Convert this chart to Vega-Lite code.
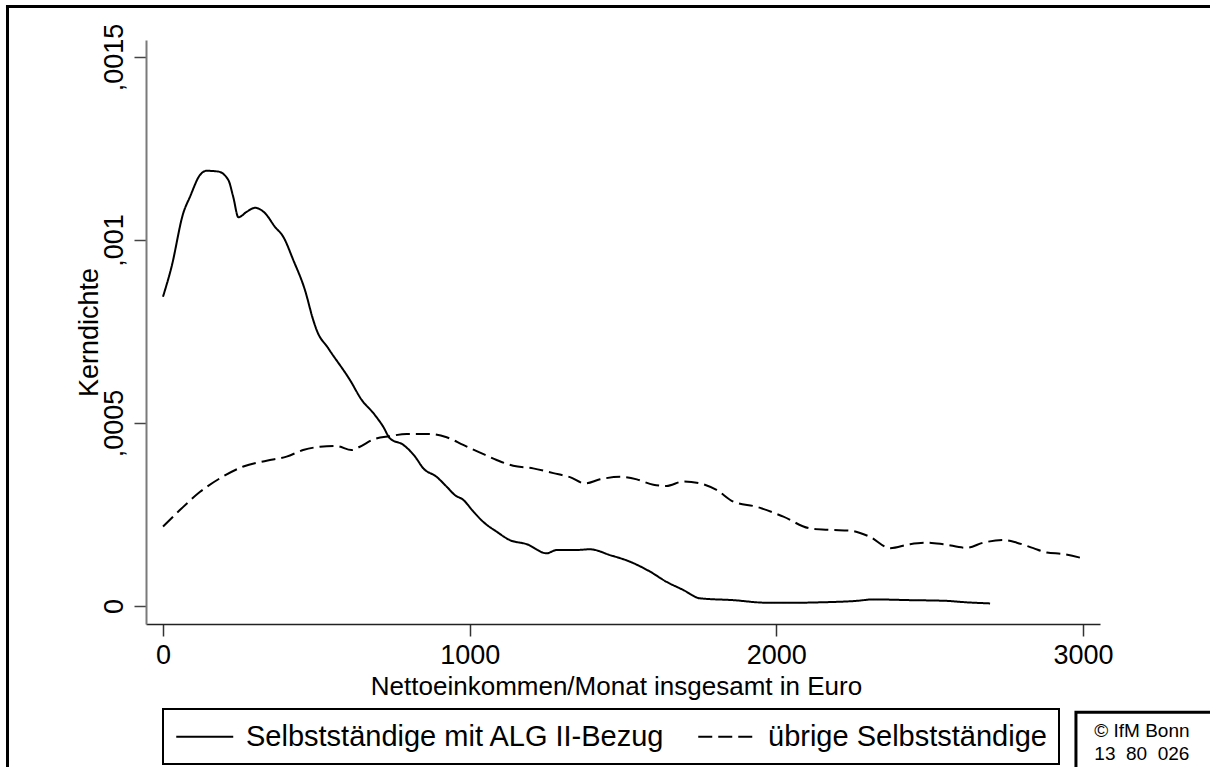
{
  "$schema": "https://vega.github.io/schema/vega-lite/v6.json",
  "width": 954,
  "height": 584,
  "autosize": {"type": "none"},
  "padding": {"left": 146, "top": 40, "right": 110, "bottom": 143},
  "background": "white",
  "config": {"font": "Liberation Sans", "view": {"stroke": null}, "legend": {"strokeWidth": 2}},
  "layer": [
    {
      "data": {
        "values": [
          {"gruppe": "Selbstständige mit ALG II-Bezug", "einkommen": 0, "dichte": 0.000845},
          {"gruppe": "Selbstständige mit ALG II-Bezug", "einkommen": 28, "dichte": 0.000927},
          {"gruppe": "Selbstständige mit ALG II-Bezug", "einkommen": 66, "dichte": 0.001073},
          {"gruppe": "Selbstständige mit ALG II-Bezug", "einkommen": 88, "dichte": 0.001118},
          {"gruppe": "Selbstständige mit ALG II-Bezug", "einkommen": 121, "dichte": 0.001178},
          {"gruppe": "Selbstständige mit ALG II-Bezug", "einkommen": 142, "dichte": 0.001189},
          {"gruppe": "Selbstständige mit ALG II-Bezug", "einkommen": 180, "dichte": 0.001187},
          {"gruppe": "Selbstständige mit ALG II-Bezug", "einkommen": 213, "dichte": 0.001164},
          {"gruppe": "Selbstständige mit ALG II-Bezug", "einkommen": 229, "dichte": 0.001118},
          {"gruppe": "Selbstständige mit ALG II-Bezug", "einkommen": 246, "dichte": 0.001062},
          {"gruppe": "Selbstständige mit ALG II-Bezug", "einkommen": 273, "dichte": 0.001077},
          {"gruppe": "Selbstständige mit ALG II-Bezug", "einkommen": 300, "dichte": 0.001088},
          {"gruppe": "Selbstständige mit ALG II-Bezug", "einkommen": 333, "dichte": 0.001073},
          {"gruppe": "Selbstständige mit ALG II-Bezug", "einkommen": 365, "dichte": 0.001036},
          {"gruppe": "Selbstständige mit ALG II-Bezug", "einkommen": 392, "dichte": 0.001009},
          {"gruppe": "Selbstständige mit ALG II-Bezug", "einkommen": 425, "dichte": 0.000945},
          {"gruppe": "Selbstständige mit ALG II-Bezug", "einkommen": 463, "dichte": 0.000863},
          {"gruppe": "Selbstständige mit ALG II-Bezug", "einkommen": 490, "dichte": 0.000781},
          {"gruppe": "Selbstständige mit ALG II-Bezug", "einkommen": 501, "dichte": 0.000754},
          {"gruppe": "Selbstständige mit ALG II-Bezug", "einkommen": 539, "dichte": 0.000704},
          {"gruppe": "Selbstständige mit ALG II-Bezug", "einkommen": 610, "dichte": 0.000617},
          {"gruppe": "Selbstständige mit ALG II-Bezug", "einkommen": 648, "dichte": 0.000563},
          {"gruppe": "Selbstständige mit ALG II-Bezug", "einkommen": 686, "dichte": 0.000527},
          {"gruppe": "Selbstständige mit ALG II-Bezug", "einkommen": 718, "dichte": 0.00049},
          {"gruppe": "Selbstständige mit ALG II-Bezug", "einkommen": 740, "dichte": 0.000458},
          {"gruppe": "Selbstständige mit ALG II-Bezug", "einkommen": 784, "dichte": 0.00044},
          {"gruppe": "Selbstständige mit ALG II-Bezug", "einkommen": 822, "dichte": 0.000408},
          {"gruppe": "Selbstständige mit ALG II-Bezug", "einkommen": 849, "dichte": 0.000376},
          {"gruppe": "Selbstständige mit ALG II-Bezug", "einkommen": 892, "dichte": 0.000353},
          {"gruppe": "Selbstständige mit ALG II-Bezug", "einkommen": 925, "dichte": 0.000326},
          {"gruppe": "Selbstständige mit ALG II-Bezug", "einkommen": 952, "dichte": 0.000303},
          {"gruppe": "Selbstständige mit ALG II-Bezug", "einkommen": 979, "dichte": 0.00029},
          {"gruppe": "Selbstständige mit ALG II-Bezug", "einkommen": 1012, "dichte": 0.000258},
          {"gruppe": "Selbstständige mit ALG II-Bezug", "einkommen": 1044, "dichte": 0.00023},
          {"gruppe": "Selbstständige mit ALG II-Bezug", "einkommen": 1088, "dichte": 0.000203},
          {"gruppe": "Selbstständige mit ALG II-Bezug", "einkommen": 1131, "dichte": 0.00018},
          {"gruppe": "Selbstständige mit ALG II-Bezug", "einkommen": 1186, "dichte": 0.000169},
          {"gruppe": "Selbstständige mit ALG II-Bezug", "einkommen": 1251, "dichte": 0.000144},
          {"gruppe": "Selbstständige mit ALG II-Bezug", "einkommen": 1284, "dichte": 0.000153},
          {"gruppe": "Selbstständige mit ALG II-Bezug", "einkommen": 1349, "dichte": 0.000153},
          {"gruppe": "Selbstständige mit ALG II-Bezug", "einkommen": 1392, "dichte": 0.000155},
          {"gruppe": "Selbstständige mit ALG II-Bezug", "einkommen": 1458, "dichte": 0.000139},
          {"gruppe": "Selbstständige mit ALG II-Bezug", "einkommen": 1523, "dichte": 0.000121},
          {"gruppe": "Selbstständige mit ALG II-Bezug", "einkommen": 1588, "dichte": 0.000094},
          {"gruppe": "Selbstständige mit ALG II-Bezug", "einkommen": 1642, "dichte": 0.000066},
          {"gruppe": "Selbstständige mit ALG II-Bezug", "einkommen": 1696, "dichte": 0.000044},
          {"gruppe": "Selbstständige mit ALG II-Bezug", "einkommen": 1751, "dichte": 0.000021},
          {"gruppe": "Selbstständige mit ALG II-Bezug", "einkommen": 1859, "dichte": 0.000016},
          {"gruppe": "Selbstständige mit ALG II-Bezug", "einkommen": 1968, "dichte": 0.000009},
          {"gruppe": "Selbstständige mit ALG II-Bezug", "einkommen": 2077, "dichte": 0.000009},
          {"gruppe": "Selbstständige mit ALG II-Bezug", "einkommen": 2142, "dichte": 0.00001},
          {"gruppe": "Selbstständige mit ALG II-Bezug", "einkommen": 2262, "dichte": 0.000014},
          {"gruppe": "Selbstständige mit ALG II-Bezug", "einkommen": 2316, "dichte": 0.000018},
          {"gruppe": "Selbstständige mit ALG II-Bezug", "einkommen": 2436, "dichte": 0.000016},
          {"gruppe": "Selbstständige mit ALG II-Bezug", "einkommen": 2555, "dichte": 0.000014},
          {"gruppe": "Selbstständige mit ALG II-Bezug", "einkommen": 2621, "dichte": 0.00001},
          {"gruppe": "Selbstständige mit ALG II-Bezug", "einkommen": 2697, "dichte": 0.000007},
          {"gruppe": "übrige Selbstständige", "einkommen": 0, "dichte": 0.000217},
          {"gruppe": "übrige Selbstständige", "einkommen": 55, "dichte": 0.000262},
          {"gruppe": "übrige Selbstständige", "einkommen": 121, "dichte": 0.000312},
          {"gruppe": "übrige Selbstständige", "einkommen": 186, "dichte": 0.000349},
          {"gruppe": "übrige Selbstständige", "einkommen": 262, "dichte": 0.000381},
          {"gruppe": "übrige Selbstständige", "einkommen": 338, "dichte": 0.000397},
          {"gruppe": "übrige Selbstständige", "einkommen": 403, "dichte": 0.000408},
          {"gruppe": "übrige Selbstständige", "einkommen": 457, "dichte": 0.000426},
          {"gruppe": "übrige Selbstständige", "einkommen": 512, "dichte": 0.000435},
          {"gruppe": "übrige Selbstständige", "einkommen": 566, "dichte": 0.000437},
          {"gruppe": "übrige Selbstständige", "einkommen": 615, "dichte": 0.000426},
          {"gruppe": "übrige Selbstständige", "einkommen": 642, "dichte": 0.000435},
          {"gruppe": "übrige Selbstständige", "einkommen": 686, "dichte": 0.000455},
          {"gruppe": "übrige Selbstständige", "einkommen": 740, "dichte": 0.000464},
          {"gruppe": "übrige Selbstständige", "einkommen": 795, "dichte": 0.00047},
          {"gruppe": "übrige Selbstständige", "einkommen": 871, "dichte": 0.00047},
          {"gruppe": "übrige Selbstständige", "einkommen": 925, "dichte": 0.000461},
          {"gruppe": "übrige Selbstständige", "einkommen": 979, "dichte": 0.00044},
          {"gruppe": "übrige Selbstständige", "einkommen": 1034, "dichte": 0.000419},
          {"gruppe": "übrige Selbstständige", "einkommen": 1088, "dichte": 0.000399},
          {"gruppe": "übrige Selbstständige", "einkommen": 1142, "dichte": 0.000383},
          {"gruppe": "übrige Selbstständige", "einkommen": 1207, "dichte": 0.000376},
          {"gruppe": "übrige Selbstständige", "einkommen": 1273, "dichte": 0.000363},
          {"gruppe": "übrige Selbstständige", "einkommen": 1327, "dichte": 0.000352},
          {"gruppe": "übrige Selbstständige", "einkommen": 1376, "dichte": 0.000335},
          {"gruppe": "übrige Selbstständige", "einkommen": 1425, "dichte": 0.000346},
          {"gruppe": "übrige Selbstständige", "einkommen": 1490, "dichte": 0.000353},
          {"gruppe": "übrige Selbstständige", "einkommen": 1545, "dichte": 0.000346},
          {"gruppe": "übrige Selbstständige", "einkommen": 1599, "dichte": 0.000331},
          {"gruppe": "übrige Selbstständige", "einkommen": 1642, "dichte": 0.000328},
          {"gruppe": "übrige Selbstständige", "einkommen": 1696, "dichte": 0.00034},
          {"gruppe": "übrige Selbstständige", "einkommen": 1751, "dichte": 0.000335},
          {"gruppe": "übrige Selbstständige", "einkommen": 1805, "dichte": 0.000317},
          {"gruppe": "übrige Selbstständige", "einkommen": 1860, "dichte": 0.000285},
          {"gruppe": "übrige Selbstständige", "einkommen": 1936, "dichte": 0.000271},
          {"gruppe": "übrige Selbstständige", "einkommen": 2023, "dichte": 0.000244},
          {"gruppe": "übrige Selbstständige", "einkommen": 2110, "dichte": 0.000212},
          {"gruppe": "übrige Selbstständige", "einkommen": 2175, "dichte": 0.000208},
          {"gruppe": "übrige Selbstständige", "einkommen": 2240, "dichte": 0.000206},
          {"gruppe": "übrige Selbstständige", "einkommen": 2305, "dichte": 0.000189},
          {"gruppe": "übrige Selbstständige", "einkommen": 2371, "dichte": 0.000158},
          {"gruppe": "übrige Selbstständige", "einkommen": 2436, "dichte": 0.000169},
          {"gruppe": "übrige Selbstständige", "einkommen": 2490, "dichte": 0.000173},
          {"gruppe": "übrige Selbstständige", "einkommen": 2544, "dichte": 0.000169},
          {"gruppe": "übrige Selbstständige", "einkommen": 2621, "dichte": 0.000159},
          {"gruppe": "übrige Selbstständige", "einkommen": 2675, "dichte": 0.000173},
          {"gruppe": "übrige Selbstständige", "einkommen": 2740, "dichte": 0.00018},
          {"gruppe": "übrige Selbstständige", "einkommen": 2784, "dichte": 0.000173},
          {"gruppe": "übrige Selbstständige", "einkommen": 2838, "dichte": 0.000158},
          {"gruppe": "übrige Selbstständige", "einkommen": 2882, "dichte": 0.000146},
          {"gruppe": "übrige Selbstständige", "einkommen": 2936, "dichte": 0.000142},
          {"gruppe": "übrige Selbstständige", "einkommen": 3000, "dichte": 0.00013}
        ]
      },
      "mark": {"type": "line", "color": "black", "strokeWidth": 2, "interpolate": "monotone"},
      "encoding": {
        "x": {
          "field": "einkommen",
          "type": "quantitative",
          "scale": {"domain": [-55.4, 3055.4], "nice": false, "zero": false},
          "axis": {
            "title": "Nettoeinkommen/Monat insgesamt in Euro",
            "titleFontSize": 26,
            "titleFontWeight": "normal",
            "titleColor": "black",
            "titleBaseline": "alphabetic",
            "titleX": 470,
            "titleY": 70,
            "values": [0, 1000, 2000, 3000],
            "format": "d",
            "labelFontSize": 27,
            "labelColor": "black",
            "labelBaseline": "alphabetic",
            "labelPadding": 27,
            "tickSize": 12,
            "tickColor": "#333",
            "tickWidth": 1.5,
            "domainColor": "#222",
            "domainWidth": 1.5,
            "grid": false
          }
        },
        "y": {
          "field": "dichte",
          "type": "quantitative",
          "scale": {"domain": [-0.0000492, 0.0015464], "nice": false, "zero": false},
          "axis": {
            "title": "Kerndichte",
            "titleFontSize": 27,
            "titleFontWeight": "normal",
            "titleColor": "black",
            "titleAngle": 270,
            "titleBaseline": "alphabetic",
            "titleAlign": "center",
            "titleX": -49,
            "titleY": 292,
            "values": [0, 0.0005, 0.001, 0.0015],
            "format": ".4~f",
            "labelExpr": "replace(datum.label, '0.', ',')",
            "labelFontSize": 27,
            "labelColor": "black",
            "labelAngle": 270,
            "labelAlign": "center",
            "labelBaseline": "alphabetic",
            "labelPadding": 12,
            "tickSize": 12,
            "tickColor": "#444",
            "tickWidth": 1.5,
            "domainColor": "#7a7a7a",
            "domainWidth": 2,
            "grid": false
          }
        },
        "strokeDash": {
          "field": "gruppe",
          "type": "nominal",
          "scale": {
            "domain": ["Selbstständige mit ALG II-Bezug", "übrige Selbstständige"],
            "range": [[1, 0], [14, 6]]
          },
          "legend": {
            "title": null,
            "orient": "none",
            "direction": "horizontal",
            "legendX": 17,
            "legendY": 669,
            "padding": 12,
            "strokeColor": "black",
            "fillColor": "white",
            "columnPadding": 28,
            "labelOffset": 40,
            "labelFontSize": 29,
            "labelColor": "black",
            "labelLimit": 1000,
            "symbolType": "M-1,0H3",
            "symbolSize": 812,
            "symbolStrokeWidth": 2,
            "symbolStrokeColor": "black",
            "symbolFillColor": "transparent"
          }
        }
      }
    },
    {
      "data": {"values": [{}]},
      "mark": {"type": "rule", "color": "black", "strokeWidth": 3},
      "encoding": {
        "x": {"datum": -507, "type": "quantitative"},
        "y": {"datum": 0.001642, "type": "quantitative"},
        "y2": {"datum": -0.00046}
      }
    },
    {
      "data": {"values": [{}]},
      "mark": {"type": "rule", "color": "black", "strokeWidth": 3},
      "encoding": {
        "x": {"datum": -512, "type": "quantitative"},
        "x2": {"datum": 3430},
        "y": {"datum": 0.001638, "type": "quantitative"}
      }
    },
    {
      "data": {"values": [{}]},
      "mark": {"type": "rect", "fill": "white", "stroke": "black", "strokeWidth": 3},
      "encoding": {
        "x": {"datum": 2977, "type": "quantitative"},
        "x2": {"datum": 3440},
        "y": {"datum": -0.00029, "type": "quantitative"},
        "y2": {"datum": -0.00047}
      }
    },
    {
      "data": {"values": [{}]},
      "mark": {"type": "text", "text": "© IfM Bonn", "fontSize": 19, "color": "black", "align": "center", "baseline": "middle"},
      "encoding": {
        "x": {"datum": 3192, "type": "quantitative"},
        "y": {"datum": -0.0003415, "type": "quantitative"}
      }
    },
    {
      "data": {"values": [{}]},
      "mark": {"type": "text", "text": "13\u00a0\u00a080\u00a0\u00a0026", "fontSize": 19, "color": "black", "align": "center", "baseline": "middle"},
      "encoding": {
        "x": {"datum": 3192, "type": "quantitative"},
        "y": {"datum": -0.0004044, "type": "quantitative"}
      }
    }
  ]
}
